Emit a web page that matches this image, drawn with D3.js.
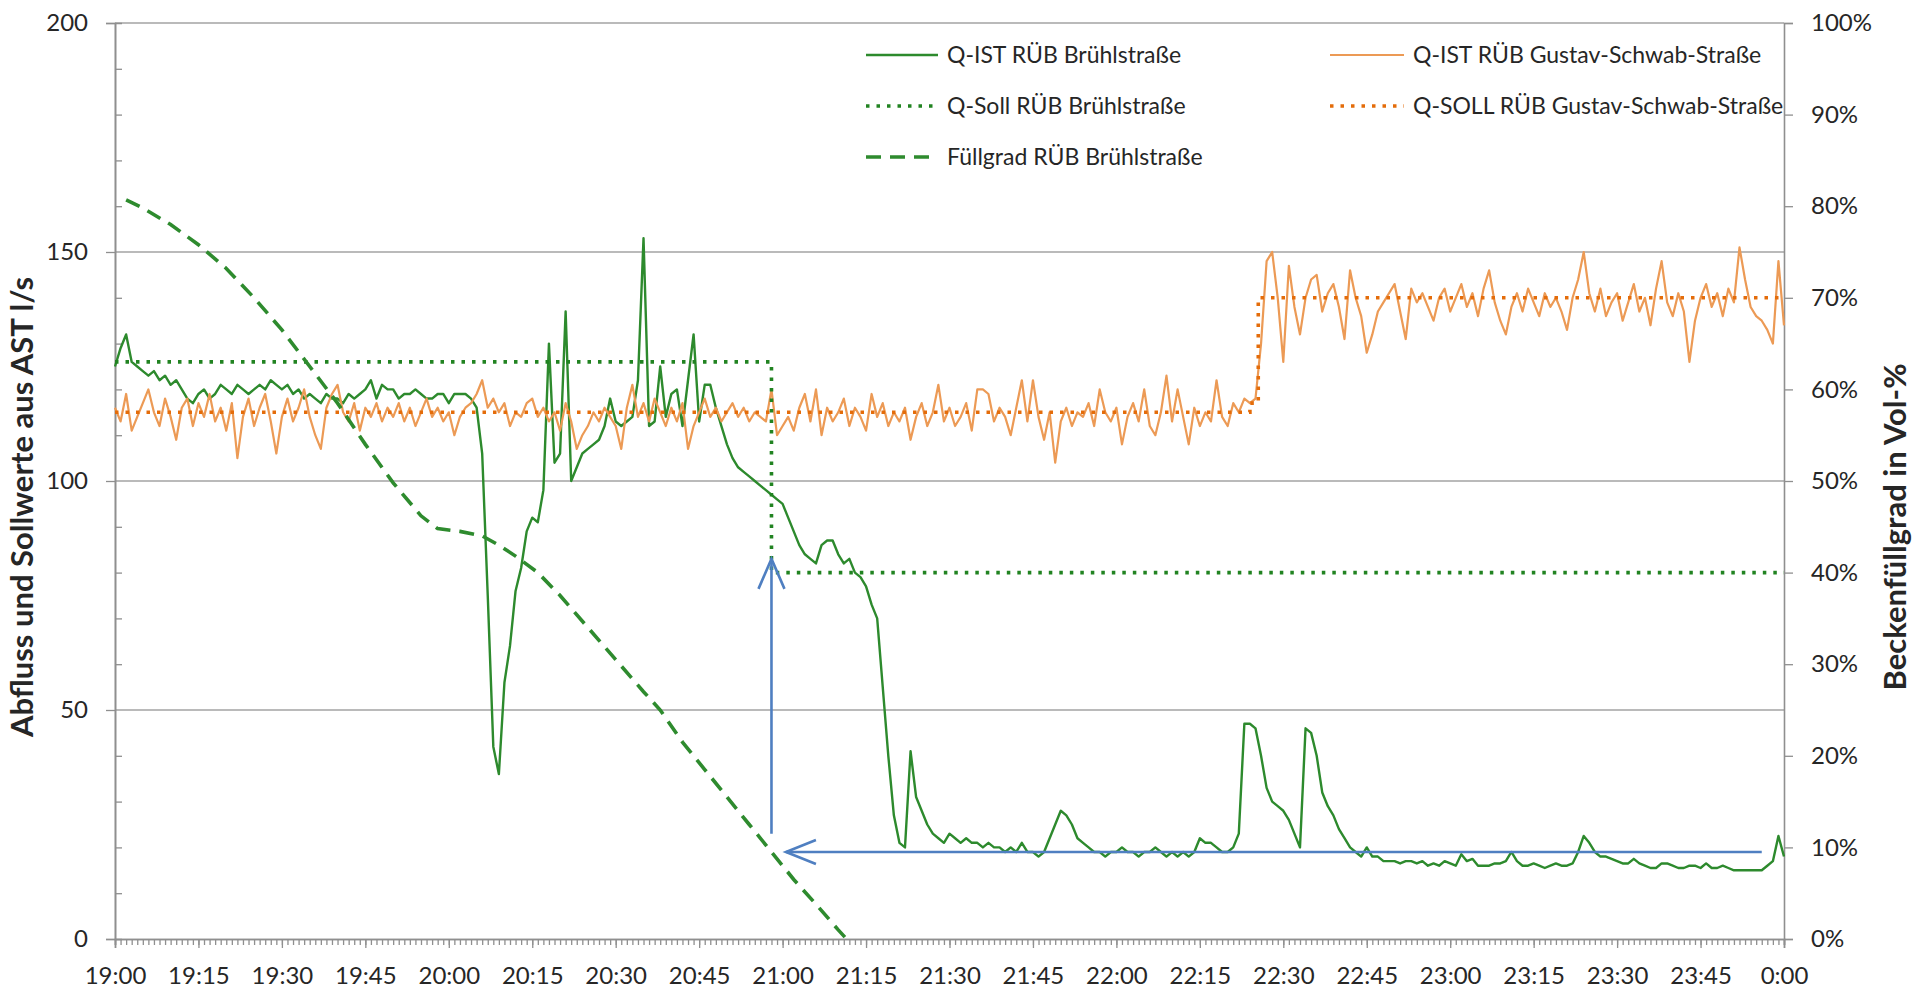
<!DOCTYPE html>
<html>
<head>
<meta charset="utf-8">
<script src="https://cdn.jsdelivr.net/npm/d3@7"></script>
<style>
  body { margin: 0; background: #fff; }
  text { font-family: Lato, "Open Sans", sans-serif; fill: #262626; }
</style>
</head>
<body>
<svg id="chart" width="1917" height="988"></svg>
<script>
// one value per minute, 19:00 .. 0:00
const startTime = new Date(2020, 0, 1, 19, 0);
const endTime = new Date(2020, 0, 2, 0, 0);

const qIstBruehl = [
  125, 129, 132, 126, 125, 124, 123, 124, 122, 123,
  121, 122, 120, 118, 117, 119, 120, 118, 119, 121,
  120, 119, 121, 120, 119, 120, 121, 120, 122, 121,
  120, 121, 119, 120, 118, 119, 118, 117, 119, 118,
  118, 117, 119, 118, 119, 120, 122, 118, 121, 120,
  120, 118, 119, 119, 120, 119, 118, 118, 119, 119,
  117, 119, 119, 119, 118, 116, 106, 75, 42, 36,
  56, 64, 76, 81, 89, 92, 91, 98, 130, 104,
  106, 137, 100, 103, 106, 107, 108, 109, 112, 118,
  113, 112, 113, 114, 122, 153, 112, 113, 125, 114,
  119, 120, 112, 122, 132, 113, 121, 121, 116, 112,
  108, 105, 103, 102, 101, 100, 99, 98, 97, 96,
  95, 92, 89, 86, 84, 83, 82, 86, 87, 87,
  84, 82, 83, 80, 79, 77, 73, 70, 55, 40,
  27, 21, 20, 41, 31, 28, 25, 23, 22, 21,
  23, 22, 21, 22, 21, 21, 20, 21, 20, 20,
  19, 20, 19, 21, 19, 19, 18, 19, 22, 25,
  28, 27, 25, 22, 21, 20, 19, 19, 18, 19,
  19, 20, 19, 19, 18, 19, 19, 20, 19, 18,
  19, 18, 19, 18, 19, 22, 21, 21, 20, 19,
  19, 20, 23, 47, 47, 46, 40, 33, 30, 29,
  28, 26, 23, 20, 46, 45, 40, 32, 29, 27,
  24, 22, 20, 19, 18, 20, 18, 18, 17, 17,
  17, 16.5, 17, 17, 16.5, 17, 16, 16.5, 16, 17,
  16.5, 16, 18.5, 17, 17.5, 16, 16, 16, 16.5, 16.5,
  17, 19, 17, 16, 16, 16.5, 16, 15.5, 16, 16.5,
  16, 16, 16.5, 19, 22.5, 21, 19, 18, 18, 17.5,
  17, 16.5, 16.5, 17.5, 16.5, 16, 15.5, 15.5, 16.5, 16.5,
  16, 15.5, 15.5, 16, 16, 15.5, 16.5, 15.5, 15.5, 16,
  15.5, 15, 15, 15, 15, 15, 15, 16, 17, 22.5,
  18
];

const qIstGustav = [
  116, 113, 119, 111, 114, 117, 120, 115, 112, 118,
  114, 109, 116, 118, 112, 117, 114, 119, 113, 116,
  111, 117, 105, 114, 118, 112, 116, 119, 113, 106,
  114, 118, 113, 116, 120, 114, 110, 107, 116, 119,
  121, 115, 113, 117, 111, 116, 114, 117, 113, 116,
  114, 117, 113, 116, 112, 115, 118, 114, 116, 113,
  115, 110, 114, 116, 117, 119, 122, 116, 118, 115,
  117, 112, 115, 114, 117, 118, 114, 116, 113, 115,
  111, 117, 113, 107, 110, 112, 115, 113, 116, 114,
  112, 107, 116, 121, 114, 117, 113, 118, 115, 112,
  116, 113, 117, 107, 112, 115, 118, 114, 116, 113,
  115, 117, 114, 116, 113, 115, 114, 113, 120, 110,
  112, 114, 111, 116, 119, 113, 120, 110, 116, 113,
  115, 118, 112, 116, 114, 111, 119, 114, 117, 112,
  115, 113, 116, 109, 114, 117, 112, 115, 121, 113,
  116, 112, 114, 117, 111, 120, 120, 119, 113, 116,
  114, 110, 116, 122, 113, 122, 114, 109, 115, 104,
  113, 116, 112, 115, 114, 117, 112, 120, 115, 113,
  116, 108, 114, 117, 113, 120, 112, 110, 115, 123,
  113, 120, 114, 108, 116, 112, 115, 113, 122, 114,
  112, 117, 115, 118, 117, 118, 130, 148, 150, 140,
  126, 147, 138, 132, 140, 144, 145, 137, 141, 143,
  138, 131, 146, 140, 136, 128, 132, 137, 139, 141,
  143, 137, 131, 142, 139, 141, 138, 135, 140, 142,
  137, 140, 143, 138, 141, 136, 142, 146, 139, 135,
  132, 138, 141, 137, 142, 139, 136, 141, 138, 140,
  137, 133, 140, 144, 150, 141, 137, 142, 136, 139,
  141, 135, 139, 143, 137, 140, 134, 142, 148, 139,
  136, 141, 137, 126, 135, 140, 143, 138, 141, 136,
  142, 139, 151, 144, 138, 136, 135, 133, 130, 148,
  134
];

// set points (minute, l/s)
const qSollBruehlMin = [0, 118, 118, 300];
const qSollBruehlVal = [126, 126, 80, 80];
const qSollGustavMin = [0, 204, 204, 205.5, 205.5, 300];
const qSollGustavVal = [115, 115, 117, 117, 140, 140];

// Füllgrad (minute, fraction)
const fuellMin = [2, 5, 10, 15, 20, 25, 30, 35, 40, 45, 50, 55, 58, 62, 66, 69, 72, 76, 80, 85, 90, 95, 98, 102, 106, 110, 114, 118, 122, 126, 130, 131.5];
const fuellVal = [0.807, 0.798, 0.780, 0.758, 0.732, 0.700, 0.665, 0.625, 0.585, 0.540, 0.498, 0.462, 0.448, 0.445, 0.440, 0.430, 0.418, 0.400, 0.375, 0.340, 0.305, 0.270, 0.250, 0.215, 0.185, 0.155, 0.125, 0.095, 0.065, 0.038, 0.010, 0];

// annotation arrows (minute, l/s)
const arrowUp = { min: 118, from: 23, to: 83 };
const arrowLeft = { from: 296, to: 120.6, val: 19 };

const leftTicks = [0, 50, 100, 150, 200];
const rightTicks = [0, 0.1, 0.2, 0.3, 0.4, 0.5, 0.6, 0.7, 0.8, 0.9, 1];

const legendLabels = [
  "Q-IST RÜB Brühlstraße",
  "Q-Soll RÜB Brühlstraße",
  "Füllgrad RÜB Brühlstraße",
  "Q-IST RÜB Gustav-Schwab-Straße",
  "Q-SOLL RÜB Gustav-Schwab-Straße"
];

const svg = d3.select("#chart");
const plotLeft = 115, plotRight = 1784, plotTop = 23, plotBottom = 939;
const axisColor = "#8f8f8f";

const minuteToDate = m => new Date(startTime.getTime() + m * 60000);
const x = d3.scaleTime().domain([startTime, endTime]).range([plotLeft, plotRight]);
const yL = d3.scaleLinear().domain([0, 200]).range([plotBottom, plotTop]);
const yR = d3.scaleLinear().domain([0, 1]).range([plotBottom, plotTop]);

// gridlines
svg.append("g")
  .selectAll("line")
  .data(leftTicks.filter(d => d > 0))
  .join("line")
  .attr("x1", plotLeft).attr("x2", plotRight)
  .attr("y1", d => yL(d)).attr("y2", d => yL(d))
  .attr("stroke", "#a3a3a3").attr("stroke-width", 1.6);

// left axis
svg.append("g")
  .attr("transform", `translate(${plotLeft},0)`)
  .call(d3.axisLeft(yL).tickValues(leftTicks).tickSize(9).tickPadding(18));
svg.append("g")
  .attr("transform", `translate(${plotLeft},0)`)
  .call(d3.axisRight(yL).tickValues(d3.range(10, 200, 10).filter(d => d % 50)).tickSize(7).tickFormat(""));

// right axis
svg.append("g")
  .attr("transform", `translate(${plotRight},0)`)
  .call(d3.axisRight(yR).tickValues(rightTicks).tickSize(9).tickPadding(18).tickFormat(d3.format(".0%")));

// x axis: minor ticks every minute, labels every 15 minutes
svg.append("g")
  .attr("transform", `translate(0,${plotBottom})`)
  .call(d3.axisBottom(x).ticks(d3.timeMinute.every(1)).tickSize(6).tickFormat(""));
svg.append("g")
  .attr("transform", `translate(0,${plotBottom})`)
  .call(d3.axisBottom(x).ticks(d3.timeMinute.every(15)).tickSize(9).tickPadding(19).tickFormat(d3.timeFormat("%-H:%M")));

svg.selectAll(".domain").attr("stroke", axisColor).attr("stroke-width", 1.6);
svg.selectAll(".tick line").attr("stroke", axisColor).attr("stroke-width", 1.3);
svg.selectAll(".tick text").style("font-size", "24px").attr("fill", "#262626");

// axis titles
svg.append("text")
  .attr("transform", "translate(33,507) rotate(-90)")
  .attr("text-anchor", "middle")
  .style("font-size", "31px").style("font-weight", "bold")
  .text("Abfluss und Sollwerte aus AST l/s");
svg.append("text")
  .attr("transform", "translate(1906,527) rotate(-90)")
  .attr("text-anchor", "middle")
  .style("font-size", "31px").style("font-weight", "bold")
  .text("Beckenfüllgrad in Vol-%");

// series
const lineIdx = d3.line().x((d, i) => x(minuteToDate(i))).y(d => yL(d));
const linePts = (mins, vals, y) => d3.line().x(i => x(minuteToDate(mins[i]))).y(i => y(vals[i]))(d3.range(mins.length));

const styles = [
  { color: "#2d8a2d", width: 2.4, dash: null },
  { color: "#218321", width: 3.6, dash: "3.5,7" },
  { color: "#2e8b2e", width: 3.6, dash: "15,9" },
  { color: "#ec9a55", width: 2.2, dash: null },
  { color: "#e46c0a", width: 3.6, dash: "3.5,7" }
];

const plot = svg.append("g").attr("fill", "none");
plot.append("path").attr("d", lineIdx(qIstBruehl))
  .attr("stroke", styles[0].color).attr("stroke-width", styles[0].width).attr("stroke-linejoin", "round");
plot.append("path").attr("d", lineIdx(qIstGustav))
  .attr("stroke", styles[3].color).attr("stroke-width", styles[3].width).attr("stroke-linejoin", "round");
plot.append("path").attr("d", linePts(qSollGustavMin, qSollGustavVal, yL))
  .attr("stroke", styles[4].color).attr("stroke-width", styles[4].width).attr("stroke-dasharray", styles[4].dash);
plot.append("path").attr("d", linePts(qSollBruehlMin, qSollBruehlVal, yL))
  .attr("stroke", styles[1].color).attr("stroke-width", styles[1].width).attr("stroke-dasharray", styles[1].dash);
plot.append("path").attr("d", linePts(fuellMin, fuellVal, yR))
  .attr("stroke", styles[2].color).attr("stroke-width", styles[2].width).attr("stroke-dasharray", styles[2].dash);

// blue arrows
const blue = "#4f7fc1";
const ax = x(minuteToDate(arrowUp.min));
const ayTip = yL(arrowUp.to);
plot.append("line")
  .attr("x1", ax).attr("x2", ax).attr("y1", yL(arrowUp.from)).attr("y2", ayTip)
  .attr("stroke", blue).attr("stroke-width", 2.6);
plot.append("path")
  .attr("d", `M${ax - 13},${ayTip + 30}L${ax},${ayTip}L${ax + 13},${ayTip + 30}`)
  .attr("stroke", blue).attr("stroke-width", 2.6);
const hy = yL(arrowLeft.val);
const hxTip = x(minuteToDate(arrowLeft.to));
plot.append("line")
  .attr("x1", x(minuteToDate(arrowLeft.from))).attr("x2", hxTip).attr("y1", hy).attr("y2", hy)
  .attr("stroke", blue).attr("stroke-width", 2.6);
plot.append("path")
  .attr("d", `M${hxTip + 30},${hy - 12}L${hxTip},${hy}L${hxTip + 30},${hy + 12}`)
  .attr("stroke", blue).attr("stroke-width", 2.6);

// legend
const legendPos = [
  { lx: 866, tx: 947, y: 55, s: 0 },
  { lx: 866, tx: 947, y: 106, s: 1 },
  { lx: 866, tx: 947, y: 157, s: 2 },
  { lx: 1330, tx: 1413, y: 55, s: 3 },
  { lx: 1330, tx: 1413, y: 106, s: 4 }
];
const legend = svg.append("g");
legendLabels.forEach((label, i) => {
  const p = legendPos[i];
  const st = styles[p.s];
  legend.append("line")
    .attr("x1", p.lx).attr("x2", p.tx - 9).attr("y1", p.y).attr("y2", p.y)
    .attr("stroke", st.color).attr("stroke-width", st.width)
    .attr("stroke-dasharray", st.dash);
  legend.append("text")
    .attr("x", p.tx).attr("y", p.y).attr("dy", "0.35em")
    .style("font-size", "23px")
    .text(label);
});
</script>
</body>
</html>
